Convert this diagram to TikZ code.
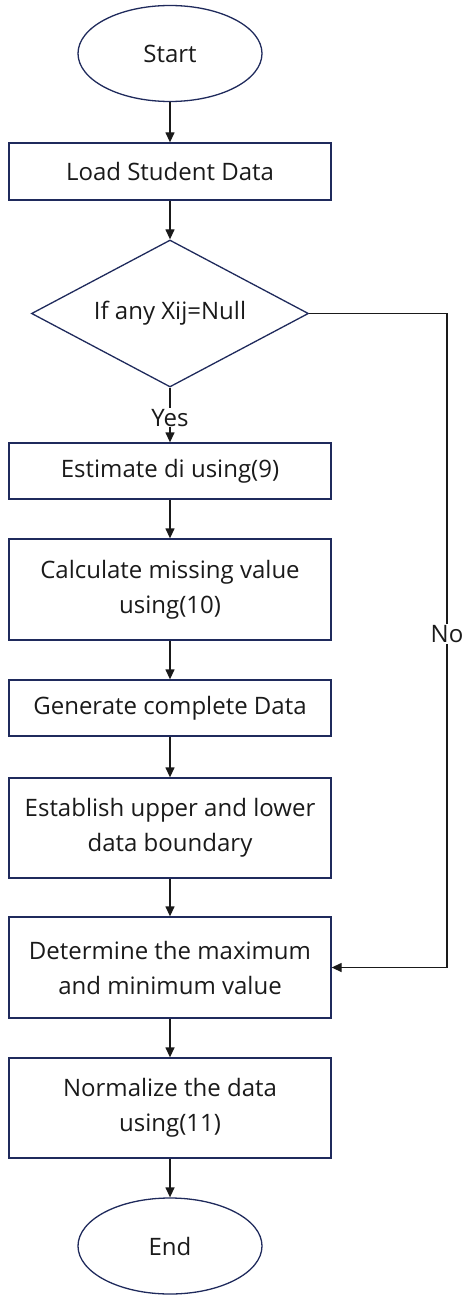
\documentclass[tikz,border=0pt]{standalone}
\usepackage{fontspec}
\setmainfont{Open Sans}
\usetikzlibrary{shapes.geometric,arrows.meta}
\definecolor{boxline}{HTML}{1F2A5C}
\definecolor{txt}{HTML}{1A1A1A}
\tikzset{
  x=1pt,y=-1pt,
  base/.style={draw=boxline,line width=1.3pt,text=txt,font=\fontsize{24}{35}\selectfont,align=center,inner sep=0pt},
  procbox/.style={base,rectangle,minimum width=322pt},
  term/.style={base,ellipse,minimum width=184pt,minimum height=96pt},
  decis/.style={base,diamond,minimum width=277pt,minimum height=147pt,aspect=1.884},
  conn/.style={draw=txt,line width=1.3pt,-{Triangle[length=10pt,width=9pt]}},
  lbl/.style={fill=white,text=txt,font=\fontsize{24}{28}\selectfont,inner sep=1pt}
}
\begin{document}
\begin{tikzpicture}
\useasboundingbox (0,0) rectangle (464,1295);
\node[term] (start) at (170,53.5) {Start};
\node[procbox,minimum height=57pt] (load) at (170,171.5) {Load Student Data};
\node[decis] (dec) at (170,313.5) {If any Xij=Null};
\node[procbox,minimum height=56pt] (est) at (170,471) {Estimate di using(9)};
\node[procbox,minimum height=101pt] (calc) at (170,589.5) {Calculate missing value\\using(10)};
\node[procbox,minimum height=56pt] (gen) at (170,708) {Generate complete Data};
\node[procbox,minimum height=100pt] (estab) at (170,828) {Establish upper and lower\\data boundary};
\node[procbox,minimum height=101pt] (det) at (170,967.5) {Determine the maximum\\and minimum value};
\node[procbox,minimum height=100pt] (norm) at (170,1108) {Normalize the data\\using(11)};
\node[term] (end) at (170,1246) {End};
\coordinate (c1) at (447,313.5);
\coordinate (c2) at (447,967.5);
\draw[conn] (start) -- (load);
\draw[conn] (load) -- (dec);
\draw[conn] (dec.south) -- node[lbl,pos=0.55] (yes) {Yes} (est.north);
\draw[conn] (est) -- (calc);
\draw[conn] (calc) -- (gen);
\draw[conn] (gen) -- (estab);
\draw[conn] (estab) -- (det);
\draw[conn] (det) -- (norm);
\draw[conn] (norm) -- (end);
\draw[conn] (dec.east) -- (c1) -- node[lbl,pos=0.49] (no) {No} (c2) -- (det.east);
\end{tikzpicture}
\end{document}
